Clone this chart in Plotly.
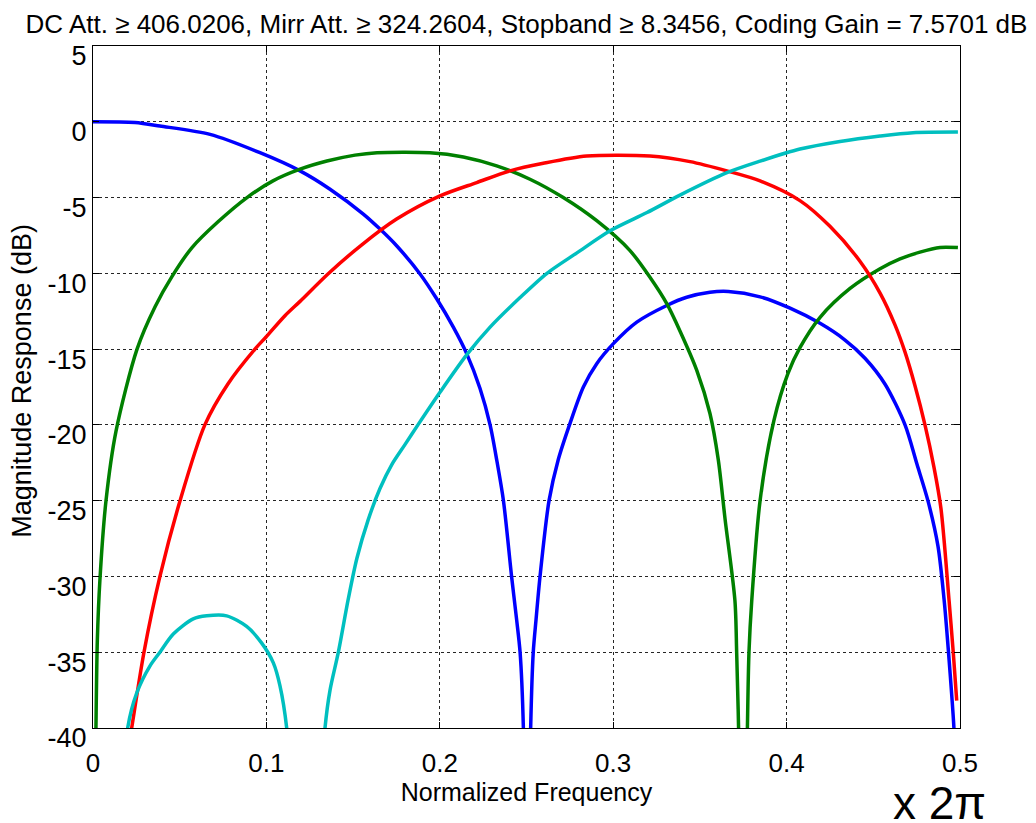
import plotly.graph_objects as go

# Magnitude responses of a 4-channel filter bank (frequency in cycles/sample, x 2pi)
blue_f = [0.0, 0.0242, 0.0386, 0.0675, 0.0963, 0.1194, 0.1367, 0.1559, 0.1655, 0.1751,
          0.1886, 0.1982, 0.2078, 0.2155, 0.2232, 0.2290, 0.2328, 0.2367, 0.2414, 0.2443,
          0.2463, 0.2482, 0.25, 0.2524, 0.2539, 0.2555, 0.2578, 0.2630, 0.2683, 0.2751,
          0.2828, 0.2905, 0.3001, 0.3136, 0.3309, 0.3424, 0.3558, 0.3664, 0.3847, 0.4020,
          0.4193, 0.4337, 0.4452, 0.4567, 0.4683, 0.4752, 0.4815, 0.4873, 0.4908, 0.4933,
          0.4965, 0.4983]
blue_db = [0.0, -0.05, -0.28, -0.83, -2.04, -3.24, -4.45, -6.09, -7.08, -8.18,
           -10.04, -11.68, -13.55, -15.3, -17.6, -20.0, -22.3, -25.0, -30.0, -32.85,
           -35.0, -40.0, -60.0, -40.0, -35.0, -32.85, -30.0, -25.0, -22.3, -19.9,
           -17.5, -15.96, -14.64, -13.22, -12.12, -11.58, -11.25, -11.2, -11.55, -12.3,
           -13.3, -14.4, -15.6, -17.3, -20.0, -22.6, -25.0, -28.0, -31.5, -34.9,
           -40.0, -45.0]

green_f = [0.0, 0.0017, 0.0025, 0.0040, 0.0075, 0.0133, 0.0254, 0.0358, 0.0456, 0.0571,
           0.0721, 0.0888, 0.1038, 0.1194, 0.1349, 0.1511, 0.1638, 0.1943, 0.2136, 0.2328,
           0.2520, 0.2712, 0.2905, 0.3097, 0.3212, 0.3309, 0.3385, 0.3482, 0.3558, 0.3606,
           0.3645, 0.3702, 0.3712, 0.3723, 0.375, 0.3774, 0.3783, 0.3799, 0.3847, 0.3927,
           0.4008, 0.4077, 0.4193, 0.4366, 0.4539, 0.4654, 0.4769, 0.4885, 0.4988]
green_db = [-60.0, -40.0, -34.2, -30.2, -25.0, -20.4, -15.0, -12.2, -10.2, -8.3,
            -6.6, -5.0, -3.9, -3.13, -2.59, -2.2, -2.04, -2.04, -2.32, -2.91,
            -3.79, -5.0, -6.53, -8.5, -10.26, -12.0, -13.8, -16.4, -19.25, -22.3,
            -26.2, -31.6, -35.0, -40.0, -60.0, -40.0, -35.0, -31.6, -25.0, -19.7,
            -16.6, -14.9, -12.9, -11.0, -9.7, -9.05, -8.6, -8.29, -8.3]

red_f = [0.0195, 0.0223, 0.0294, 0.0386, 0.0502, 0.0645, 0.0778, 0.0934, 0.0998, 0.1107,
         0.1194, 0.1355, 0.1550, 0.1751, 0.2001, 0.2213, 0.2405, 0.2597, 0.2847, 0.3212,
         0.3443, 0.3655, 0.3847, 0.4077, 0.4250, 0.4423, 0.4539, 0.4625, 0.4683, 0.4740,
         0.4798, 0.4850, 0.4890, 0.4937, 0.4961, 0.4981]
red_db = [-42.0, -40.0, -35.0, -30.0, -25.0, -20.0, -17.3, -15.0, -14.2, -12.8,
          -11.85, -10.04, -8.12, -6.42, -4.89, -4.01, -3.24, -2.74, -2.26, -2.26,
          -2.63, -3.24, -3.9, -5.2, -6.9, -9.2, -11.3, -13.4, -15.2, -17.4,
          -20.0, -22.8, -25.5, -31.6, -35.0, -38.2]

cyan_f = [0.0175, 0.02, 0.0252, 0.0329, 0.0386, 0.0463, 0.0578, 0.0656, 0.0771, 0.0886,
          0.0973, 0.104, 0.1078, 0.1117, 0.123, 0.1338, 0.1367, 0.1415, 0.1472, 0.1522,
          0.1586, 0.1655, 0.1724, 0.1799, 0.1874, 0.2001, 0.2157, 0.2290, 0.2463, 0.2618,
          0.2791, 0.2982, 0.3195, 0.3385, 0.3656, 0.3847, 0.4077, 0.4308, 0.4539, 0.4729,
          0.4988]
cyan_db = [-44.0, -40.0, -37.7, -35.9, -35.0, -33.8, -32.8, -32.6, -32.6, -33.3,
           -34.4, -35.7, -37.2, -40.0, -60.0, -40.0, -37.5, -35.0, -31.5, -28.8,
           -26.3, -24.2, -22.6, -21.3, -20.0, -17.85, -15.35, -13.55, -11.6, -10.0,
           -8.65, -7.19, -5.99, -4.84, -3.36, -2.6, -1.8, -1.3, -0.94, -0.72,
           -0.68]

x_ticks = [0, 0.1, 0.2, 0.3, 0.4, 0.5]
x_tick_labels = ["0", "0.1", "0.2", "0.3", "0.4", "0.5"]
y_ticks = [-40, -35, -30, -25, -20, -15, -10, -5, 0, 5]
y_tick_labels = ["-40", "-35", "-30", "-25", "-20", "-15", "-10", "-5", "0", "5"]

title_text = ("DC Att. \u2265 406.0206, Mirr Att. \u2265 324.2604, "
              "Stopband \u2265 8.3456, Coding Gain = 7.5701 dB")

FONT = "Liberation Sans, Arial, Helvetica, sans-serif"

series = [
    (blue_f, blue_db, "#0000FF"),
    (green_f, green_db, "#008000"),
    (red_f, red_db, "#FF0000"),
    (cyan_f, cyan_db, "#00BFBF"),
]

fig = go.Figure()
for f, db, color in series:
    fig.add_trace(go.Scatter(
        x=f, y=db, mode="lines",
        line=dict(color=color, width=3.5, shape="spline", smoothing=0.8),
        showlegend=False, hoverinfo="skip",
    ))

axis_common = dict(
    showline=True, linecolor="black", linewidth=1.3, mirror="ticks",
    ticks="inside", ticklen=6, tickwidth=1.2, tickcolor="black",
    showgrid=True, gridcolor="rgba(0,0,0,0.85)", gridwidth=1, griddash="3px,3px",
    zeroline=False,
)

fig.update_xaxes(
    range=[0, 0.5], tickvals=x_ticks, ticktext=x_tick_labels,
    tickfont=dict(family=FONT, size=26, color="black"), ticklabelstandoff=12,
    title=dict(text="Normalized Frequency", font=dict(family=FONT, size=25, color="black"),
               standoff=4),
    **axis_common,
)
fig.update_yaxes(
    range=[-40, 5], tickvals=y_ticks, ticktext=y_tick_labels, ticklabelshift=10,
    tickfont=dict(family=FONT, size=27, color="black"),
    **axis_common,
)

fig.update_layout(
    width=1036, height=823,
    margin=dict(l=93, r=76, t=46, b=95),
    paper_bgcolor="white", plot_bgcolor="white",
    title=dict(text=title_text, xref="paper", x=0.5, xanchor="center",
               y=1 - 24 / 823, yanchor="middle",
               font=dict(family=FONT, size=26, color="black")),
    annotations=[
        dict(text="Magnitude Response (dB)", textangle=-90, xref="paper", yref="paper",
             x=-0.082, y=0.509, xanchor="center", yanchor="middle", showarrow=False,
             font=dict(family=FONT, size=27, color="black")),
        dict(text="x 2\u03c0", xref="paper", yref="paper", x=0.976, y=-0.11,
             xanchor="center", yanchor="middle", showarrow=False,
             font=dict(family=FONT, size=46, color="black")),
    ],
)

fig.write_html("out.html")
